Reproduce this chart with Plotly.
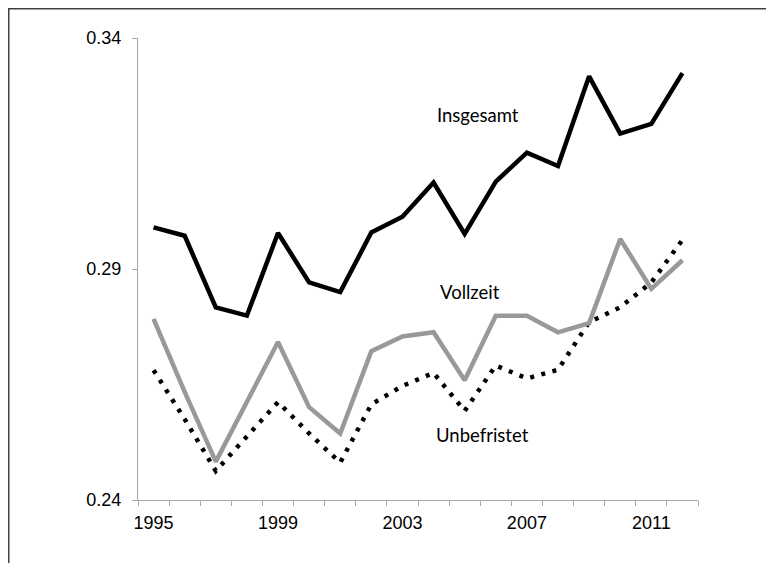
import plotly.graph_objects as go

years = list(range(1995, 2013))
insgesamt = [0.2990, 0.2972, 0.2817, 0.2799, 0.2978, 0.2871, 0.2850, 0.2979, 0.3013,
             0.3087, 0.2976, 0.3089, 0.3152, 0.3123, 0.3317, 0.3193, 0.3214, 0.3324]
vollzeit = [0.2792, 0.2634, 0.2483, 0.2612, 0.2742, 0.2601, 0.2544, 0.2722, 0.2754,
            0.2763, 0.2659, 0.2799, 0.2799, 0.2763, 0.2783, 0.2965, 0.2857, 0.2919]
unbefristet = [0.2681, 0.2575, 0.2463, 0.2537, 0.2612, 0.2544, 0.2481, 0.2607, 0.2647,
               0.2675, 0.2593, 0.2691, 0.2663, 0.2682, 0.2785, 0.2817, 0.2871, 0.2963]
x_labels = [1995, 1999, 2003, 2007, 2011]
y_ticks = [0.24, 0.29, 0.34]
boundaries = [y - 0.5 for y in years] + [years[-1] + 0.5]

# page body has an 8px margin on every side; the figure is sized so the page does not overflow
OFF = 8
W, H = 774 - 2 * OFF, 571 - 2 * OFF
ML, MT = 138 - OFF, 38 - OFF
PW, PH = 560, 462
MR, MB = W - ML - PW, H - MT - PH
AX = "#a6a6a6"
TICKFONT = dict(family="Arial, Liberation Sans, sans-serif", size=18, color="#000000")

fig = go.Figure()
fig.add_trace(go.Scatter(x=years, y=unbefristet, mode="lines", name="Unbefristet",
                         line=dict(color="#000000", width=4.5, dash="4px,7.5px")))
fig.add_trace(go.Scatter(x=years, y=vollzeit, mode="lines", name="Vollzeit",
                         line=dict(color="#999999", width=4.5)))
fig.add_trace(go.Scatter(x=years, y=insgesamt, mode="lines", name="Insgesamt",
                         line=dict(color="#000000", width=4.5)))

def px_x(p):
    # p is a page pixel
    return (p - OFF - ML) / PW

def px_y(p):
    return (H - MB - (p - OFF)) / PH

annots = [("Insgesamt", 477.7, 115), ("Vollzeit", 470, 291.7), ("Unbefristet", 482, 435)]
annotations = [dict(text=t, x=px_x(x), y=px_y(y), xref="paper", yref="paper",
                    showarrow=False, xanchor="center", yanchor="middle",
                    font=dict(family="Lato, Open Sans, sans-serif", size=18.5, color="#000000"))
               for t, x, y in annots]

frame = dict(color="#404040", width=1.5)
fig.update_layout(
    width=W, height=H,
    margin=dict(l=ML, r=MR, t=MT, b=MB),
    paper_bgcolor="white", plot_bgcolor="white",
    showlegend=False,
    annotations=annotations,
    shapes=[
        dict(type="line", xref="paper", yref="paper",
             x0=px_x(OFF + 0.75), x1=px_x(OFF + 0.75), y0=px_y(OFF + H), y1=px_y(OFF),
             line=frame, layer="above"),
        dict(type="line", xref="paper", yref="paper",
             x0=px_x(OFF), x1=px_x(OFF + W), y0=px_y(OFF + 0.75), y1=px_y(OFF + 0.75),
             line=frame, layer="above"),
    ],
    xaxis=dict(range=[1994.5, 2012.5], tickvals=x_labels, ticktext=[str(v) for v in x_labels],
               ticks="", showgrid=False, zeroline=False, showline=True, linecolor=AX, linewidth=1,
               ticklabelstandoff=6, tickfont=TICKFONT,
               minor=dict(tickvals=boundaries, ticks="outside", ticklen=5, tickcolor=AX, tickwidth=1, showgrid=False)),
    xaxis2=dict(range=[1994.5, 2012.5], overlaying="x", anchor="y", side="bottom",
                tickvals=boundaries, ticks="inside", ticklen=4, tickcolor=AX, tickwidth=1,
                showticklabels=False, showgrid=False, zeroline=False, showline=False),
    yaxis=dict(range=[0.24, 0.34], tickvals=y_ticks, tickformat=".2f",
               ticks="outside", ticklen=5, tickcolor=AX, tickwidth=1,
               showgrid=False, zeroline=False, showline=True, linecolor=AX, linewidth=1,
               ticklabelstandoff=7, tickfont=TICKFONT),
)

fig.write_html("out.html")
